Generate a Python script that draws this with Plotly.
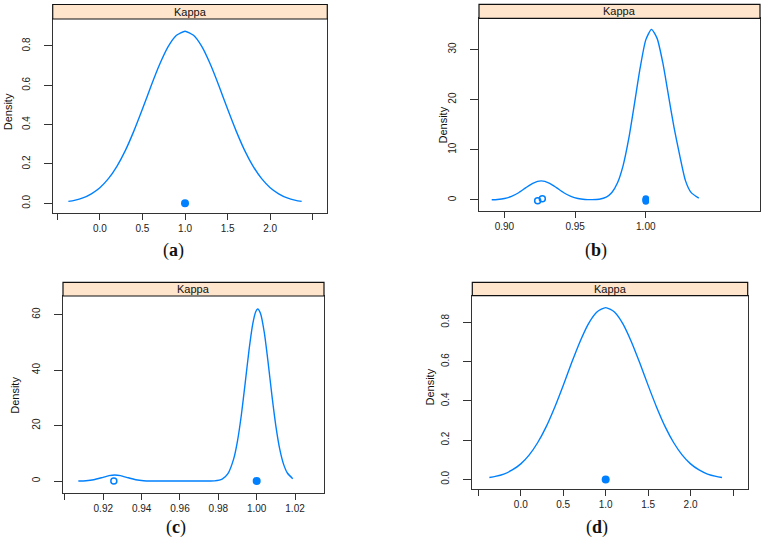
import plotly.graph_objects as go

W, H = 766, 539

# ---------------- data ----------------
# panel (a) and (d): density of Kappa (all resamples = 1.0)
x_a = [-0.37, -0.3, -0.2, -0.1, 0.0, 0.1, 0.2, 0.3, 0.4, 0.5, 0.6, 0.7, 0.8, 0.9, 1.0,
       1.1, 1.2, 1.3, 1.4, 1.5, 1.6, 1.7, 1.8, 1.9, 2.0, 2.1, 2.2, 2.3, 2.37]
y_a = [0.0096, 0.015, 0.027, 0.048, 0.079, 0.125, 0.188, 0.269, 0.368, 0.479, 0.595, 0.704, 0.795, 0.854, 0.875,
       0.854, 0.795, 0.704, 0.595, 0.479, 0.368, 0.269, 0.188, 0.125, 0.079, 0.048, 0.027, 0.015, 0.0096]
pts_a_multi = [1.0]
x_d = list(x_a)
y_d = list(y_a)
pts_d_multi = [1.0]

# panel (b)
x_b = [0.891, 0.895, 0.900, 0.905, 0.910, 0.915, 0.920, 0.926, 0.932, 0.937, 0.942, 0.947, 0.952, 0.957,
       0.962, 0.967, 0.972, 0.976, 0.980, 0.984, 0.988, 0.992, 0.996, 1.000, 1.004, 1.008, 1.012, 1.016,
       1.020, 1.024, 1.028, 1.032, 1.0375]
y_b = [0.04, 0.10, 0.29, 0.72, 1.44, 2.41, 3.32, 3.80, 3.32, 2.41, 1.44, 0.72, 0.29, 0.10,
       0.06, 0.15, 0.57, 1.49, 3.42, 6.9, 12.3, 19.2, 26.3, 31.9, 34.0, 32.2, 27.4, 20.9,
       14.4, 8.87, 3.9, 1.5, 0.35]
pts_b_single = [0.9235, 0.9268]
pts_b_single_jit = [-0.15, 0.25]
pts_b_multi = [1.0, 1.0, 1.0, 1.0, 1.0]
pts_b_multi_jit = [-0.3, -0.15, 0.0, 0.15, 0.3]

# panel (c)
x_c = [0.907, 0.911, 0.915, 0.919, 0.923, 0.926, 0.929, 0.933, 0.937, 0.941, 0.945, 0.95, 0.96, 0.97,
       0.978, 0.982, 0.985, 0.988, 0.990, 0.992, 0.994, 0.996, 0.998, 0.9995, 1.0005, 1.002, 1.004,
       1.006, 1.008, 1.010, 1.012, 1.014, 1.016, 1.0188]
y_c = [0.02, 0.12, 0.46, 1.17, 1.96, 2.2, 1.96, 1.17, 0.46, 0.12, 0.02, 0.0, 0.0, 0.0,
       0.08, 0.71, 2.68, 7.98, 14.5, 23.8, 35.3, 47.2, 56.8, 61.0, 62.0, 60.4, 53.4,
       42.5, 30.5, 19.8, 11.6, 6.1, 2.9, 0.86]
pts_c_single = [0.9255]
pts_c_multi = [1.0]

strip_label = "Kappa"
y_title = "Density"
captions = ["a", "b", "c", "d"]

xt_ad = [-0.5, 0.0, 0.5, 1.0, 1.5, 2.0, 2.5]
xt_ad_txt = ["", "0.0", "0.5", "1.0", "1.5", "2.0", ""]
yt_ad = [0.0, 0.2, 0.4, 0.6, 0.8]
yt_ad_txt = ["0.0", "0.2", "0.4", "0.6", "0.8"]
xt_b = [0.90, 0.95, 1.00]
xt_b_txt = ["0.90", "0.95", "1.00"]
yt_b = [0, 10, 20, 30]
xt_c = [0.90, 0.92, 0.94, 0.96, 0.98, 1.00, 1.02]
xt_c_txt = ["", "0.92", "0.94", "0.96", "0.98", "1.00", "1.02"]
yt_c = [0, 20, 40, 60]

# ---------------- layout geometry (pixels) ----------------
BLUE = "#0080ff"
FRAME = "#333333"
STRIP = "#ffe5cc"
TICKFONT = dict(family="Liberation Sans, Arial, sans-serif", size=10, color="#222222")

panels = [
    dict(l=52.7, r=327.3, t=19.0, b=212.7, st=4.5, xr=[-0.554, 2.671], yr=[-0.048, 0.937],
         xt=xt_ad, xtt=xt_ad_txt, yt=yt_ad, ytt=yt_ad_txt, dens=(8.3, 112), cap=(173, 250)),
    dict(l=479.0, r=760.0, t=18.3, b=211.0, st=4.3, xr=[0.882, 1.0808], yr=[-2.2, 36.2],
         xt=xt_b, xtt=xt_b_txt, yt=yt_b, ytt=[str(v) for v in yt_b], dens=(443, 124.5), cap=(596, 250)),
    dict(l=63.0, r=324.0, t=296.0, b=492.7, st=282.3, xr=[0.899, 1.0351], yr=[-4.2, 66.7],
         xt=xt_c, xtt=xt_c_txt, yt=yt_c, ytt=[str(v) for v in yt_c], dens=(15, 395.8), cap=(176, 527)),
    dict(l=472.3, r=747.7, t=295.7, b=489.0, st=282.3, xr=[-0.571, 2.673], yr=[-0.049, 0.936],
         xt=xt_ad, xtt=xt_ad_txt, yt=yt_ad, ytt=yt_ad_txt, dens=(429, 387.5), cap=(597, 527)),
]

def px(x):
    return x / W

def py(y):
    return 1 - y / H

fig = go.Figure()

curves = [(x_a, y_a), (x_b, y_b), (x_c, y_c), (x_d, y_d)]
singles = [([], []), (pts_b_single, pts_b_single_jit), (pts_c_single, [0.0]), ([], [])]
multis = [(pts_a_multi, [0.0]), (pts_b_multi, pts_b_multi_jit), (pts_c_multi, [0.0]), (pts_d_multi, [0.0])]

shapes = []
annotations = []
layout_axes = {}

for i, p in enumerate(panels):
    n = "" if i == 0 else str(i + 1)
    xa, ya = "x" + n, "y" + n
    cx, cy = curves[i]
    fig.add_trace(go.Scatter(x=cx, y=cy, mode="lines", xaxis=xa, yaxis=ya,
                             line=dict(color=BLUE, width=1.4, shape="spline", smoothing=0.6),
                             showlegend=False, hoverinfo="skip"))
    sx, sj = singles[i]
    if sx:
        fig.add_trace(go.Scatter(x=sx, y=sj, mode="markers", xaxis=xa, yaxis=ya,
                                 marker=dict(symbol="circle-open", size=6, color=BLUE, line=dict(width=1.5)),
                                 showlegend=False, hoverinfo="skip"))
    mx, mj = multis[i]
    fig.add_trace(go.Scatter(x=mx, y=mj, mode="markers", xaxis=xa, yaxis=ya,
                             marker=dict(symbol="circle", size=8 if i != 1 else 6.5, color=BLUE,
                                         line=dict(width=0)),
                             showlegend=False, hoverinfo="skip"))

    layout_axes["xaxis" + n] = dict(
        domain=[px(p["l"]), px(p["r"])], range=p["xr"], anchor=ya,
        showline=True, linecolor=FRAME, linewidth=1.2, mirror=True,
        ticks="outside", ticklen=6, tickwidth=1.2, tickcolor=FRAME,
        tickvals=p["xt"], ticktext=p["xtt"], tickfont=TICKFONT,
        showgrid=False, zeroline=False, fixedrange=True)
    layout_axes["yaxis" + n] = dict(
        domain=[py(p["b"]), py(p["t"])], range=p["yr"], anchor=xa,
        showline=True, linecolor=FRAME, linewidth=1.2, mirror=True,
        ticks="outside", ticklen=8, tickwidth=1.2, tickcolor=FRAME,
        tickvals=p["yt"], ticktext=p["ytt"], tickfont=TICKFONT, tickangle=-90,
        ticklabelstandoff=10,
        showgrid=False, zeroline=False, fixedrange=True)

    shapes.append(dict(type="rect", xref="paper", yref="paper",
                       x0=px(p["l"]), x1=px(p["r"]), y0=py(p["t"]), y1=py(p["st"]),
                       fillcolor=STRIP, line=dict(color="#111111", width=1.2), layer="above"))
    annotations.append(dict(text=strip_label, xref="paper", yref="paper",
                            x=px((p["l"] + p["r"]) / 2), y=py((p["st"] + p["t"]) / 2),
                            xanchor="center", yanchor="middle", showarrow=False,
                            font=dict(family="Liberation Sans, Arial, sans-serif", size=11, color="#111111")))
    annotations.append(dict(text=y_title, xref="paper", yref="paper",
                            x=px(p["dens"][0]), y=py(p["dens"][1]), textangle=-90,
                            xanchor="center", yanchor="middle", showarrow=False,
                            font=dict(family="Liberation Sans, Arial, sans-serif", size=11, color="#111111")))
    annotations.append(dict(text="(<b>" + captions[i] + "</b>)", xref="paper", yref="paper",
                            x=px(p["cap"][0]), y=py(p["cap"][1]),
                            xanchor="center", yanchor="middle", showarrow=False,
                            font=dict(family="Liberation Serif, Times New Roman, serif", size=18, color="#111111")))

fig.update_layout(
    width=W, height=H,
    margin=dict(l=0, r=0, t=0, b=0),
    paper_bgcolor="white", plot_bgcolor="white",
    shapes=shapes, annotations=annotations,
    **layout_axes,
)

fig.write_html("out.html", config={"displayModeBar": False},
               post_script="document.body.style.margin='0';document.body.style.padding='0';")
